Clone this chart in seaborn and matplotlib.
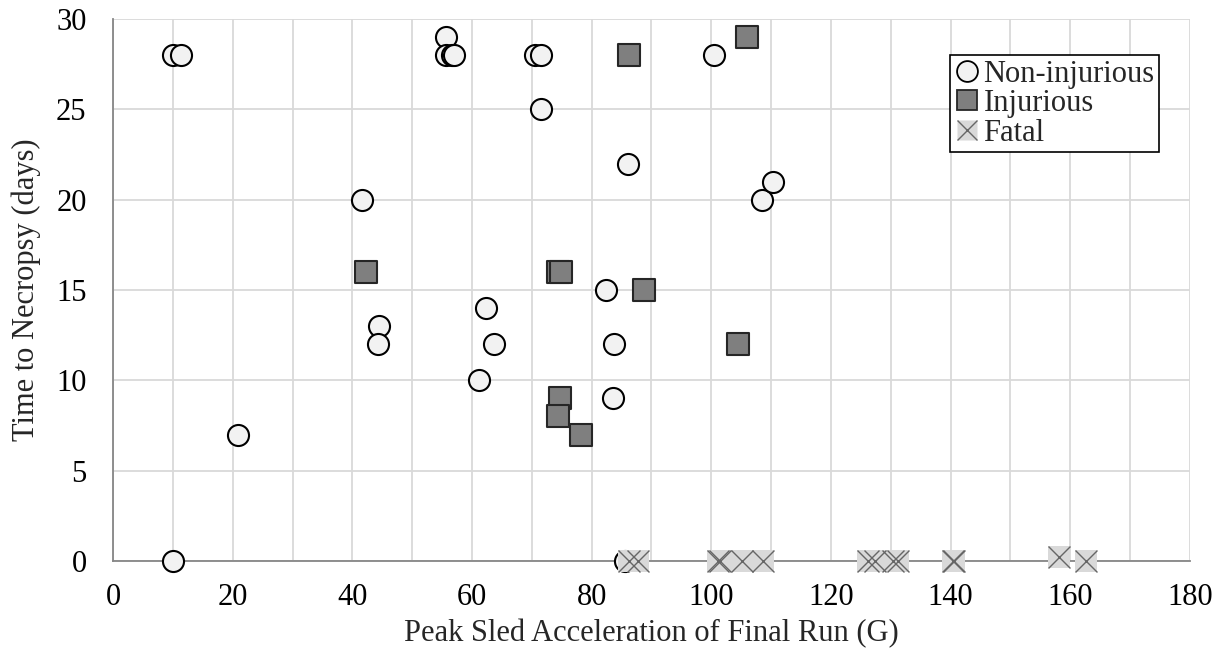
import matplotlib
matplotlib.use("Agg")
import matplotlib.pyplot as plt
import seaborn as sns
import pandas as pd
import numpy as np
from matplotlib.lines import Line2D
from matplotlib.legend_handler import HandlerTuple
from matplotlib.ticker import MultipleLocator

# ---- data ----
noninj_x = [10.0, 11.4, 10.0, 20.9, 41.6, 44.4, 44.3, 55.7, 55.7, 56.7, 57.0,
            61.2, 62.3, 63.7, 70.5, 71.5, 71.5, 82.4, 83.7, 83.6, 86.1, 85.6,
            100.5, 108.5, 110.3]
noninj_y = [28, 28, 0, 7, 20, 13, 12, 29, 28, 28, 28,
            10, 14, 12, 28, 28, 25, 15, 12, 9, 22, 0,
            28, 20, 21]

inj_x = [42.3, 74.4, 74.9, 74.7, 74.3, 78.2, 88.8, 86.2, 106.0, 104.5]
inj_y = [16, 16, 16, 9, 8, 7, 15, 28, 29, 12]

fatal_x = [86.2, 87.8, 101.1, 101.4, 105.1, 108.6, 126.2, 127.4, 130.4, 131.2,
           140.4, 140.6, 158.1, 162.6]
fatal_y = [0, 0, 0, 0, 0, 0, 0, 0, 0, 0, 0, 0, 0.2, 0]

labels = ["Non-injurious", "Injurious", "Fatal"]

df_n = pd.DataFrame({"x": noninj_x, "y": noninj_y})
df_i = pd.DataFrame({"x": inj_x, "y": inj_y})
df_f = pd.DataFrame({"x": fatal_x, "y": fatal_y})

sns.set_style("white")
plt.rcParams["font.family"] = ["Liberation Serif", "DejaVu Serif"]

fig = plt.figure(figsize=(12.23, 6.52), dpi=100)
ax = fig.add_axes([0.0924, 0.1396, 0.8806, 0.8313])

grid_c = "#D9D9D9"
axis_c = "#868686"
FS = 22

# markers
sns.scatterplot(data=df_n, x="x", y="y", ax=ax, marker="o", s=230,
                color="#F2F2F2", edgecolor="black", linewidth=1.5, zorder=3,
                legend=False, clip_on=False)
sns.scatterplot(data=df_i, x="x", y="y", ax=ax, marker="s", s=250,
                color="#7F7F7F", edgecolor="#262626", linewidth=1.5, zorder=3,
                legend=False, clip_on=False)
sns.scatterplot(data=df_f, x="x", y="y", ax=ax, marker="s", s=250,
                color="#D9D9D9", edgecolor="none", linewidth=0, zorder=3,
                legend=False, clip_on=False)
sns.scatterplot(data=df_f, x="x", y="y", ax=ax, marker="x", s=250,
                color="#666666", linewidth=1.0, zorder=4, legend=False,
                clip_on=False)

ax.set_xlim(0, 180)
ax.set_ylim(0, 30)
ax.xaxis.set_major_locator(MultipleLocator(20))
ax.xaxis.set_minor_locator(MultipleLocator(10))
ax.yaxis.set_major_locator(MultipleLocator(5))

ax.grid(True, which="both", axis="x", color=grid_c, linewidth=1.3)
ax.grid(True, which="major", axis="y", color=grid_c, linewidth=1.3)
ax.set_axisbelow(True)

for side in ["top", "right"]:
    ax.spines[side].set_visible(False)
for side in ["left", "bottom"]:
    ax.spines[side].set_color(axis_c)
    ax.spines[side].set_linewidth(1.3)
    ax.spines[side].set_zorder(2)

ax.tick_params(axis="both", which="major", direction="out", length=6,
               width=1.3, color=axis_c, labelsize=FS, labelcolor="black")
ax.tick_params(axis="x", which="major", pad=10)
ax.tick_params(axis="y", which="major", pad=13)
ax.tick_params(axis="x", which="minor", length=0)

ax.set_xlabel("Peak Sled Acceleration of Final Run (G)", fontsize=FS, labelpad=5)
ax.set_ylabel("Time to Necropsy (days)", fontsize=FS, labelpad=11)

# legend
h_n = Line2D([], [], linestyle="none", marker="o", markersize=15,
             markerfacecolor="#F2F2F2", markeredgecolor="black", markeredgewidth=1.3)
h_i = Line2D([], [], linestyle="none", marker="s", markersize=15,
             markerfacecolor="#7F7F7F", markeredgecolor="#262626", markeredgewidth=1.3)
h_f1 = Line2D([], [], linestyle="none", marker="s", markersize=15,
              markerfacecolor="#D9D9D9", markeredgecolor="none")
h_f2 = Line2D([], [], linestyle="none", marker="x", markersize=15,
              markeredgecolor="#666666", markeredgewidth=1.0)
leg = ax.legend([h_n, h_i, (h_f1, h_f2)], labels,
                handler_map={tuple: HandlerTuple(ndivide=1, pad=0)},
                loc="upper left", bbox_to_anchor=(0.777, 0.9336),
                frameon=True, fancybox=False, edgecolor="black", framealpha=1,
                fontsize=FS, handlelength=0.8, handletextpad=0.15,
                borderpad=0.15, labelspacing=0.02, borderaxespad=0)
leg.get_frame().set_linewidth(1.2)
leg.set_zorder(5)

fig.savefig("out.png", dpi=100)
